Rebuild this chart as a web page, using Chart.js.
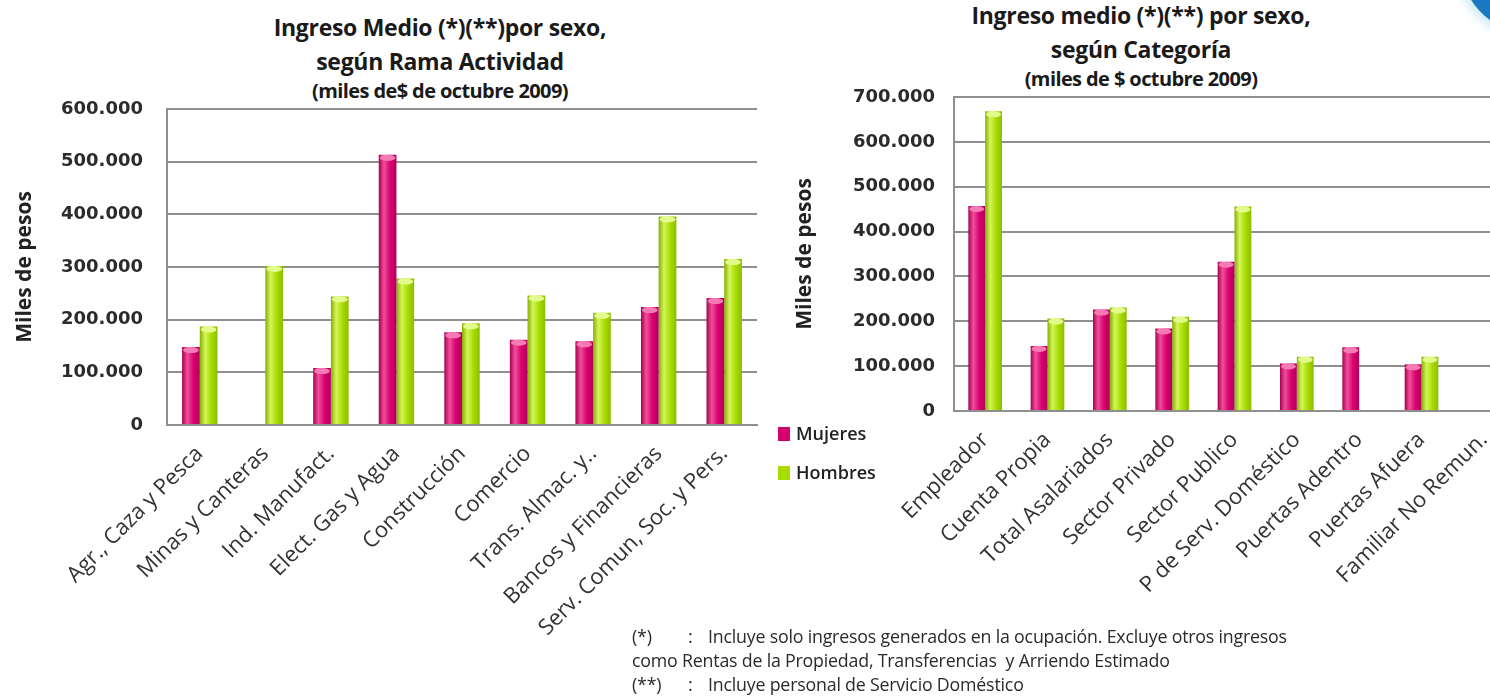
<!DOCTYPE html>
<html>
<head>
<meta charset="utf-8">
<script src="https://cdn.jsdelivr.net/npm/chart.js@4.4.1/dist/chart.umd.min.js"></script>
<style>
    html, body { margin: 0; padding: 0; width: 1490px; height: 699px; overflow: hidden; background: #ffffff; }
    .wrap { position: absolute; }
    .title { position: absolute; font-family: "Open Sans", sans-serif; font-weight: bold; color: #1a1a1a; text-align: center; white-space: nowrap; transform: translateX(-50%); }
    .title .main { font-size: 23px; line-height: 34px; letter-spacing: -0.3px; }
    .title .sub { font-size: 20px; line-height: 26px; letter-spacing: -0.6px; }
    .legend { position: absolute; left: 778px; font-family: "Open Sans", sans-serif; font-size: 18px; font-weight: 600; color: #222; }
    .legend div { height: 39px; line-height: 39px; white-space: nowrap; }
    .legend span.box { display: inline-block; width: 12px; height: 14px; margin-right: 6px; vertical-align: -1px; }
    .notes { position: absolute; left: 632px; top: 624px; font-family: "Open Sans", sans-serif; font-size: 17.8px; line-height: 24px; color: #2a2a2a; white-space: nowrap; letter-spacing: -0.2px; }
    .notes .k { display: inline-block; width: 56px; }
    .notes .c { display: inline-block; width: 20px; }
    .blob { position: absolute; left: 1462px; top: -100px; width: 150px; height: 135px; border-radius: 50%; background: #1b78c2; box-shadow: -4px 4px 10px #cfeaf8; }
</style>
</head>
<body>
<div class="blob"></div>

<div class="title" style="left: 440px; top: 10px;">
    <div class="main">Ingreso Medio (*)(**)por sexo,</div>
    <div class="main">según Rama Actividad</div>
    <div class="sub">(miles de$ de octubre 2009)</div>
</div>
<div class="title" style="left: 1141px; top: -2px;">
    <div class="main">Ingreso medio (*)(**) por sexo,</div>
    <div class="main">según Categoría</div>
    <div class="sub">(miles de $ octubre 2009)</div>
</div>

<div class="wrap" style="left: 0px; top: 0px; width: 790px; height: 699px;"><canvas id="ramaChart"></canvas></div>
<div class="wrap" style="left: 770px; top: 0px; width: 760px; height: 699px;"><canvas id="categoriaChart"></canvas></div>

<div class="legend" style="top: 414px;">
    <div><span class="box" id="boxMujeres"></span>Mujeres</div>
    <div><span class="box" id="boxHombres"></span>Hombres</div>
</div>

<div class="notes">
    <div><span class="k">(*)</span><span class="c">:</span>Incluye solo ingresos generados en la ocupación. Excluye otros ingresos</div>
    <div>como Rentas de la Propiedad, Transferencias&nbsp; y Arriendo Estimado</div>
    <div><span class="k">(**)</span><span class="c">:</span>Incluye personal de Servicio Doméstico</div>
</div>

<script>
// datos: ingreso medio en pesos
const seriesNames = ['Mujeres', 'Hombres'];

const ramaLabels = ['Agr., Caza y Pesca', 'Minas y Canteras', 'Ind. Manufact.', 'Elect. Gas y Agua', 'Construcción',
    'Comercio', 'Trans. Almac. y..', 'Bancos y Financieras', 'Serv. Comun, Soc. y Pers.'];
const ramaMujeres = [148000, null, 108000, 513000, 176000, 162000, 159000, 224000, 241000];
const ramaHombres = [187000, 302000, 244000, 278000, 193000, 246000, 213000, 396000, 315000];
const ramaTicks = [0, 100000, 200000, 300000, 400000, 500000, 600000];

const catLabels = ['Empleador', 'Cuenta Propia', 'Total Asalariados', 'Sector Privado', 'Sector Publico',
    'P de Serv. Doméstico', 'Puertas Adentro', 'Puertas Afuera', 'Familiar No Remun.'];
const catMujeres = [457000, 145000, 226000, 184000, 333000, 106000, 142000, 104000, null];
const catHombres = [668000, 206000, 231000, 210000, 456000, 121000, null, 121000, null];
const catTicks = [0, 100000, 200000, 300000, 400000, 500000, 600000, 700000];

// colores tipo cilindro: borde oscuro, brillo, base
const shades = [
    ['#a8004f', '#f04e9c', '#d8006e', '#b0005a'],
    ['#84b000', '#d4f55a', '#a8dc00', '#8cbc00']
];
const capColors = ['#f77ab5', '#e2fb8c'];

document.getElementById('boxMujeres').style.background = shades[0][2];
document.getElementById('boxHombres').style.background = shades[1][2];

const cylinderPlugin = {
    id: 'cylinder',
    beforeDatasetsDraw(chart) {
        const ctx = chart.ctx;
        chart.data.datasets.forEach((ds, i) => {
            chart.getDatasetMeta(i).data.forEach(bar => {
                const x0 = bar.x - bar.width / 2;
                const x1 = bar.x + bar.width / 2;
                const g = ctx.createLinearGradient(x0, 0, x1, 0);
                g.addColorStop(0, shades[i][0]);
                g.addColorStop(0.3, shades[i][1]);
                g.addColorStop(0.65, shades[i][2]);
                g.addColorStop(1, shades[i][3]);
                bar.options.backgroundColor = g;
            });
        });
    },
    afterDatasetsDraw(chart) {
        const ctx = chart.ctx;
        chart.data.datasets.forEach((ds, i) => {
            chart.getDatasetMeta(i).data.forEach((bar, j) => {
                if (ds.data[j] == null) return;
                ctx.save();
                ctx.fillStyle = capColors[i];
                ctx.beginPath();
                ctx.ellipse(bar.x, bar.y + 3, bar.width / 2 - 1, 3, 0, 0, Math.PI * 2);
                ctx.fill();
                ctx.restore();
            });
        });
    }
};

function formatMiles(v) {
    return v.toLocaleString('de-DE');
}

function drawIngresoChart(canvasId, labels, mujeres, hombres, ticks, box) {
    const ctx = document.getElementById(canvasId).getContext('2d');
    new Chart(ctx, {
        type: 'bar',
        data: {
            labels: labels,
            datasets: [
                { label: seriesNames[0], data: mujeres, backgroundColor: () => shades[0][2], borderWidth: 0 },
                { label: seriesNames[1], data: hombres, backgroundColor: () => shades[1][2], borderWidth: 0 }
            ]
        },
        options: {
            responsive: true,
            maintainAspectRatio: false,
            animation: false,
            layout: { padding: { top: box.top, right: box.right, left: 0, bottom: 0 } },
            plugins: {
                legend: { display: false },
                tooltip: { enabled: false }
            },
            datasets: { bar: { categoryPercentage: 0.54, barPercentage: 1.0 } },
            scales: {
                x: {
                    grid: { display: false },
                    border: { display: true, color: '#8f8f8f', width: 2 },
                    ticks: {
                        minRotation: 45, maxRotation: 45, autoSkip: false, padding: 8,
                        color: '#333', font: { family: 'Open Sans', size: 22 }
                    },
                    afterFit: (scale) => { scale.height = box.xHeight; }
                },
                y: {
                    min: 0,
                    max: ticks[ticks.length - 1],
                    afterBuildTicks: (scale) => { scale.ticks = ticks.map(v => ({ value: v })); },
                    grid: { color: '#8f8f8f', lineWidth: 2, drawTicks: false },
                    border: { display: true, color: '#8f8f8f', width: 2 },
                    ticks: {
                        padding: box.tickPad,
                        color: '#2b2b2b',
                        font: { family: 'DejaVu Sans', size: 18, weight: 'bold' },
                        callback: (v) => formatMiles(v)
                    },
                    title: {
                        display: true, text: 'Miles de pesos', color: '#222',
                        font: { family: 'Open Sans', size: 21, weight: 'bold' },
                        padding: { top: box.titlePad, bottom: 0 }
                    },
                    afterFit: (scale) => { scale.width = box.yWidth; }
                }
            }
        },
        plugins: [cylinderPlugin]
    });
}

drawIngresoChart('ramaChart', ramaLabels, ramaMujeres, ramaHombres, ramaTicks,
    { top: 109, right: 33, xHeight: 274, yWidth: 167, tickPad: 24, titlePad: 12 });
drawIngresoChart('categoriaChart', catLabels, catMujeres, catHombres, catTicks,
    { top: 97, right: 15, xHeight: 288, yWidth: 184, tickPad: 19, titlePad: 22 });
</script>
</body>
</html>
